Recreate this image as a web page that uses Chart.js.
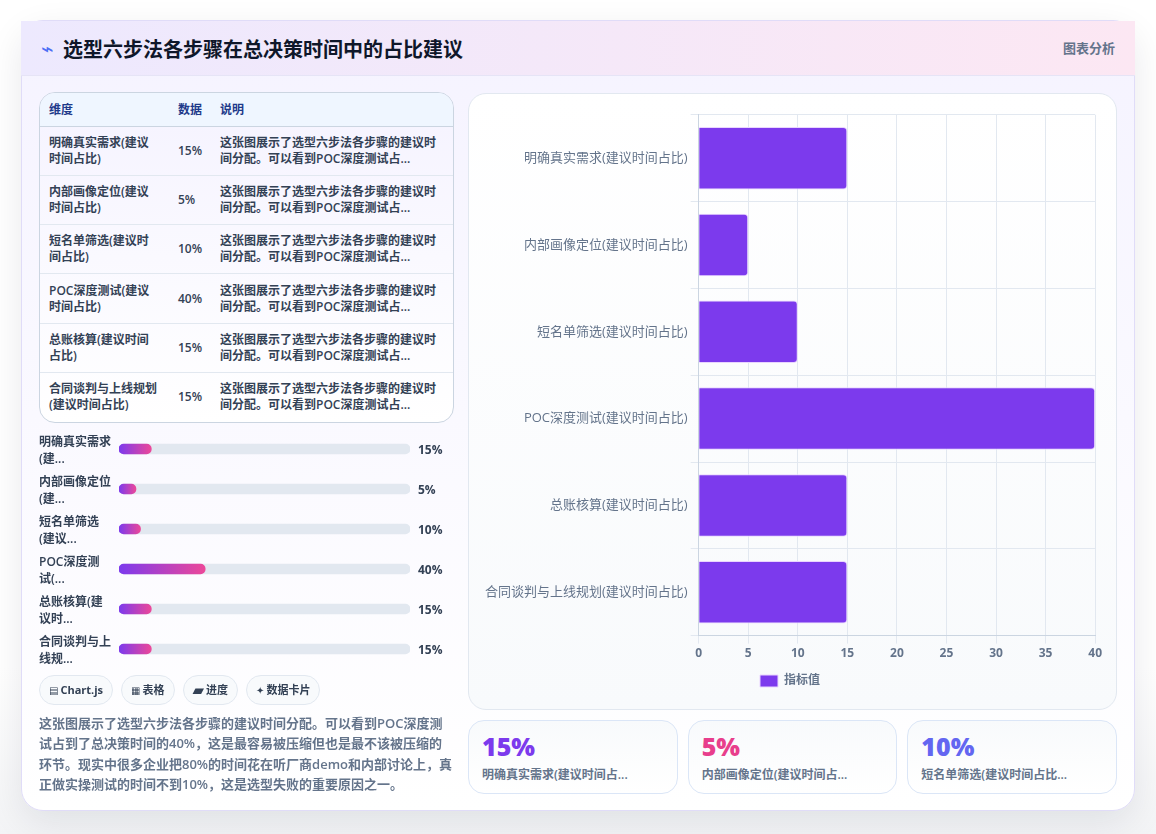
<!DOCTYPE html>
<html lang="zh-CN">
<head>
<meta charset="UTF-8">
<title>选型六步法各步骤在总决策时间中的占比建议</title>
<script src="https://cdn.jsdelivr.net/npm/chart.js@4"></script>
<style>
  * { box-sizing: border-box; margin: 0; padding: 0; }
  html, body { width: 1156px; height: 834px; overflow: hidden; background: #fff; }
  body { font-family: "Open Sans", "Noto Sans CJK SC", sans-serif; color: #334155; position: relative;
         background: linear-gradient(180deg, #ffffff 0%, #ffffff 80%, #f3f4f6 100%); }

  .card { position: absolute; left: 21px; top: 20px; width: 1114px; height: 791px; border-radius: 22px;
          border: 1px solid #e0dcf8;
          background: linear-gradient(180deg, #f5f3ff 0%, #ffffff 100%);
          box-shadow: 0 12px 36px rgba(15, 23, 42, 0.09); }
  .head { position: absolute; left: -1px; top: 0; right: -1px; height: 55px; border-bottom: 1px solid #e6e4f6;
          background: linear-gradient(90deg, #ede9fe 0%, #fce7f3 100%); }
  .head .icon { position: absolute; left: 20px; top: 16px; font: 21px/24px "DejaVu Sans"; color: #4c6ef5; }
  .head h1 { position: absolute; left: 42px; top: 15px; font-size: 20px; line-height: 28px; font-weight: 700; color: #0f172a; }
  .head .tag { position: absolute; right: 20px; top: 18px; font-size: 13px; line-height: 18px; font-weight: 600; color: #64748b; }

  /* 表格 */
  .table-wrap { position: absolute; left: 17px; top: 71px; width: 415px; height: 331px; border: 1px solid #cbd5e1;
                border-radius: 16px; overflow: hidden; background: linear-gradient(180deg, #f5f3ff, #ffffff); }
  table { width: 100%; border-collapse: collapse; table-layout: fixed; font-size: 12px; line-height: 16px; font-weight: 600; }
  th { height: 33px; padding: 2px 9px 0; text-align: left; color: #1e3a8a; background: #eff6ff; border-bottom: 1px solid #cbd5e1; }
  td { height: 49.3px; padding: 0 9px; color: #334155; border-bottom: 1px solid #e2e8f0; }
  td:last-child { padding-right: 12px; }
  tr:last-child td { border-bottom: none; }

  /* 进度条 */
  .progress { position: absolute; left: 17px; top: 408px; width: 415px; height: 240px; }
  .progress-canvas { position: absolute; left: 80px; top: 0; width: 291px; height: 240px; }
  .progress-row { position: absolute; left: 0; width: 415px; height: 40px; }
  .progress-row .name { position: absolute; left: 0; top: 4px; width: 80px; font-size: 12px; line-height: 17px; font-weight: 600; color: #334155; white-space: pre-line; }
  .progress-row .num { position: absolute; left: 379px; top: 12px; font-size: 12px; line-height: 17px; font-weight: 700; color: #334155; }

  /* 标签 */
  .chips { position: absolute; left: 17px; top: 654px; display: flex; gap: 8px; }
  .chip { height: 30px; padding: 0 9px; border: 1px solid #e2e8f0; border-radius: 15px; background: #f8fafc;
          font-size: 11px; line-height: 28px; font-weight: 700; color: #334155; white-space: nowrap; }
  .chip i { font: normal 10px/1 "DejaVu Sans"; margin-right: 2px; }
  .chip:nth-child(3) i { font-size: 15px; vertical-align: -1px; }

  .desc { position: absolute; left: 17px; top: 692px; width: 415px; font-size: 13px; line-height: 20.4px; font-weight: 600; color: #64748b; }

  /* 主图 */
  .panel { position: absolute; left: 446px; top: 72px; width: 649px; height: 617px; border: 1px solid #e2e8f0;
           border-radius: 18px; background: linear-gradient(180deg, #ffffff, #f8fafc); }
  .panel-canvas { position: absolute; left: 12px; top: 10px; width: 624px; height: 593px; }

  /* 数据卡片 */
  .stats { position: absolute; left: 446px; top: 699px; width: 649px; display: grid; grid-template-columns: repeat(3, 1fr); gap: 10px; }
  .stat { height: 74px; padding: 8px 13px; border: 1px solid #dbe6f7; border-radius: 16px; background: linear-gradient(180deg, #f8fafc, #ffffff); }
  .stat b { display: block; font-size: 25px; line-height: 34px; font-weight: 800; }
  .stat span { display: block; font-size: 12px; line-height: 17px; font-weight: 600; color: #64748b; margin-top: 3px; white-space: nowrap; }
</style>
</head>
<body>
<div class="card">
  <div class="head">
    <span class="icon">⌁</span>
    <h1>选型六步法各步骤在总决策时间中的占比建议</h1>
    <span class="tag">图表分析</span>
  </div>

  <div class="table-wrap">
    <table>
      <colgroup><col style="width:129px"><col style="width:42px"><col></colgroup>
      <thead><tr><th>维度</th><th>数据</th><th>说明</th></tr></thead>
      <tbody id="tableBody"></tbody>
    </table>
  </div>

  <div class="progress" id="progress">
    <div class="progress-canvas"><canvas id="progressChart"></canvas></div>
  </div>

  <div class="chips" id="chips"></div>

  <p class="desc" id="desc"></p>

  <div class="panel">
    <div class="panel-canvas"><canvas id="mainChart"></canvas></div>
  </div>

  <div class="stats" id="stats"></div>
</div>

<script>
/* ========================================
   数据
   ======================================== */
const categories = [
  '明确真实需求(建议时间占比)',
  '内部画像定位(建议时间占比)',
  '短名单筛选(建议时间占比)',
  'POC深度测试(建议时间占比)',
  '总账核算(建议时间占比)',
  '合同谈判与上线规划(建议时间占比)'
];
const values = [15, 5, 10, 40, 15, 15];
const seriesName = '指标值';
const xTicks = [0, 5, 10, 15, 20, 25, 30, 35, 40];

const progressLabels = ['明确真实需求\n(建...', '内部画像定位\n(建...', '短名单筛选\n(建议...', 'POC深度测\n试(...', '总账核算(建\n议时...', '合同谈判与上\n线规...'];
const progressMax = 135;

const tableNote = '这张图展示了选型六步法各步骤的建议时间分配。可以看到POC深度测试占...';
const description = '这张图展示了选型六步法各步骤的建议时间分配。可以看到POC深度测试占到了总决策时间的40%，这是最容易被压缩但也是最不该被压缩的环节。现实中很多企业把80%的时间花在听厂商demo和内部讨论上，真正做实操测试的时间不到10%，这是选型失败的重要原因之一。';

const chipIcons = ['▤', '▦', '▰', '✦'];
const chipTexts = ['Chart.js', '表格', '进度', '数据卡片'];

const statLabels = ['明确真实需求(建议时间占...', '内部画像定位(建议时间占...', '短名单筛选(建议时间占比...'];
const statValues = [15, 5, 10];
const statColors = ['#7c3aed', '#e83e8c', '#6366f1'];

const fontFamily = '"Open Sans", "Noto Sans CJK SC", sans-serif';

/* ========================================
   页面文字部分
   ======================================== */
document.getElementById('tableBody').innerHTML = categories.map((c, i) =>
  `<tr><td>${c}</td><td>${values[i]}%</td><td>${tableNote}</td></tr>`).join('');

document.getElementById('progress').insertAdjacentHTML('beforeend', progressLabels.map((l, i) =>
  `<div class="progress-row" style="top:${i * 40}px"><span class="name">${l}</span><span class="num">${values[i]}%</span></div>`).join(''));

document.getElementById('chips').innerHTML = chipTexts.map((t, i) =>
  `<span class="chip"><i>${chipIcons[i]}</i>${t}</span>`).join('');

document.getElementById('desc').textContent = description;

document.getElementById('stats').innerHTML = statValues.map((v, i) =>
  `<div class="stat"><b style="color:${statColors[i]}">${v}%</b><span>${statLabels[i]}</span></div>`).join('');

/* ========================================
   进度条
   ======================================== */
function progressGradient(ctx) {
  const { chart, dataIndex } = ctx;
  const x = chart.scales.x;
  if (!x || !chart.chartArea || !Number.isFinite(x.left)) return '#7c3aed';
  const end = Math.max(x.getPixelForValue(values[dataIndex]), x.left + 17);
  if (!Number.isFinite(end)) return '#7c3aed';
  const g = chart.ctx.createLinearGradient(x.left, 0, end, 0);
  g.addColorStop(0, '#7c3aed');
  g.addColorStop(1, '#ec4899');
  return g;
}

new Chart(document.getElementById('progressChart'), {
  type: 'bar',
  data: {
    labels: categories,
    datasets: [
      {
        data: values,
        order: 1,
        grouped: false,
        barThickness: 10,
        minBarLength: 17,
        borderRadius: 5,
        borderSkipped: false,
        backgroundColor: progressGradient
      },
      {
        data: categories.map(() => progressMax),
        order: 2,
        grouped: false,
        barThickness: 10,
        borderRadius: 5,
        borderSkipped: false,
        backgroundColor: '#e2e8f0'
      }
    ]
  },
  options: {
    indexAxis: 'y',
    responsive: true,
    maintainAspectRatio: false,
    animation: false,
    plugins: { legend: { display: false }, tooltip: { enabled: false } },
    scales: {
      x: { display: false, min: 0, max: progressMax },
      y: { display: false }
    }
  }
});

/* ========================================
   主图
   ======================================== */
new Chart(document.getElementById('mainChart'), {
  type: 'bar',
  data: {
    labels: categories,
    datasets: [{
      label: seriesName,
      data: values,
      backgroundColor: '#7c3aed',
      borderColor: '#e9d5ff',
      borderWidth: 1,
      borderRadius: 4,
      borderSkipped: 'start'
    }]
  },
  options: {
    indexAxis: 'y',
    responsive: true,
    maintainAspectRatio: false,
    animation: false,
    layout: { padding: { top: 10.5, right: 7, left: 1 } },
    plugins: {
      tooltip: { enabled: false },
      legend: {
        position: 'bottom',
        labels: { color: '#64748b', padding: 11, boxWidth: 18, boxHeight: 12, font: { family: fontFamily, size: 12, weight: '600' } }
      }
    },
    scales: {
      x: {
        min: 0,
        max: 40,
        afterBuildTicks: axis => { axis.ticks = xTicks.map(v => ({ value: v })); },
        ticks: { color: '#64748b', font: { family: fontFamily, size: 12, weight: '700' } },
        grid: { color: '#e2e8f0' },
        border: { color: '#cbd5e1' }
      },
      y: {
        ticks: { color: '#64748b', font: { family: fontFamily, size: 13 } },
        grid: { color: '#e2e8f0' },
        border: { color: '#cbd5e1' }
      }
    }
  }
});
</script>
</body>
</html>
